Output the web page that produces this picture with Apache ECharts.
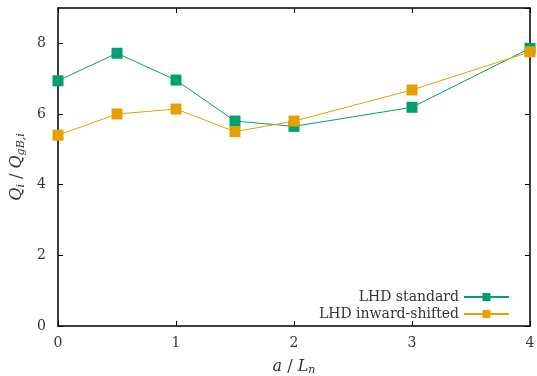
<!DOCTYPE html>
<html>
<head>
<meta charset="utf-8">
<script src="https://cdn.jsdelivr.net/npm/echarts@6/dist/echarts.min.js"></script>
<style>
html,body{margin:0;padding:0;background:#fff;}
#chart{width:537px;height:376px;}
</style>
</head>
<body>
<div id="chart"></div>
<script>
// a/L_n values
var xVals = [0, 0.5, 1, 1.5, 2, 3, 4];
var standard = [6.94, 7.72, 6.96, 5.80, 5.65, 6.19, 7.86];
var inward = [5.40, 6.00, 6.14, 5.50, 5.80, 6.68, 7.76];
var names = ['LHD standard', 'LHD inward-shifted'];

function pairs(ys){
    var out = [];
    for (var i = 0; i < xVals.length; i++) out.push([xVals[i], ys[i]]);
    return out;
}

var font = '"DejaVu Serif", "Liberation Serif", serif';
var chart = echarts.init(document.getElementById('chart'));

var xBase = {
    type: 'value', min: 0, max: 4, interval: 1,
    splitLine: {show: false},
    axisLine: {show: true, onZero: false, lineStyle: {color: '#000', width: 1.5}},
    axisTick: {show: true, inside: true, length: 5, lineStyle: {color: '#000'}}
};
var yBase = {
    type: 'value', min: 0, max: 9, interval: 2,
    splitLine: {show: false},
    axisLine: {show: true, onZero: false, lineStyle: {color: '#000', width: 1.5}},
    axisTick: {show: true, inside: true, length: 5, lineStyle: {color: '#000'}}
};
var nameRich = {
    i: {fontFamily: font, fontStyle: 'italic', fontSize: 16, color: '#333'},
    n: {fontFamily: font, fontSize: 16, color: '#333'},
    s: {fontFamily: font, fontStyle: 'italic', fontSize: 11, color: '#333', verticalAlign: 'bottom', padding: [8, 0, 0, 0]}
};

chart.setOption({
    animation: false,
    color: ['#009e73', '#e69f00'],
    grid: {left: 58, right: 7, top: 8, bottom: 50, outerBoundsMode: 'none', containLabel: false},
    legend: [
        {
            data: [names[0]], orient: 'vertical', align: 'right',
            right: 22, top: 285, itemWidth: 45, itemHeight: 10,
            textStyle: {fontFamily: font, fontSize: 14, color: '#333'}
        },
        {
            data: [names[1]], orient: 'vertical', align: 'right',
            right: 22, top: 302, itemWidth: 45, itemHeight: 10,
            textStyle: {fontFamily: font, fontSize: 14, color: '#333'}
        }
    ],
    xAxis: [
        Object.assign({}, xBase, {
            position: 'bottom',
            axisLabel: {fontFamily: font, fontSize: 14, color: '#333', margin: 10},
            name: '{i|a}{n| / }{i|L}{s|n}',
            nameLocation: 'middle', nameGap: 31,
            nameTextStyle: {rich: nameRich}
        }),
        Object.assign({}, xBase, {position: 'top', axisLabel: {show: false}})
    ],
    yAxis: [
        Object.assign({}, yBase, {
            position: 'left',
            axisLabel: {fontFamily: font, fontSize: 14, color: '#333', margin: 12, showMaxLabel: false},
            name: '{i|Q}{s|i}{n| / }{i|Q}{s|gB,i}',
            nameLocation: 'middle', nameGap: 23, nameRotate: 90,
            nameTextStyle: {rich: nameRich}
        }),
        Object.assign({}, yBase, {position: 'right', axisLabel: {show: false}})
    ],
    series: [
        {
            name: names[0], type: 'line', data: pairs(standard),
            symbol: 'rect', symbolSize: 11,
            lineStyle: {width: 1}, itemStyle: {color: '#009e73'}
        },
        {
            name: names[1], type: 'line', data: pairs(inward),
            symbol: 'rect', symbolSize: 11,
            lineStyle: {width: 1}, itemStyle: {color: '#e69f00'}
        }
    ]
});
</script>
</body>
</html>
